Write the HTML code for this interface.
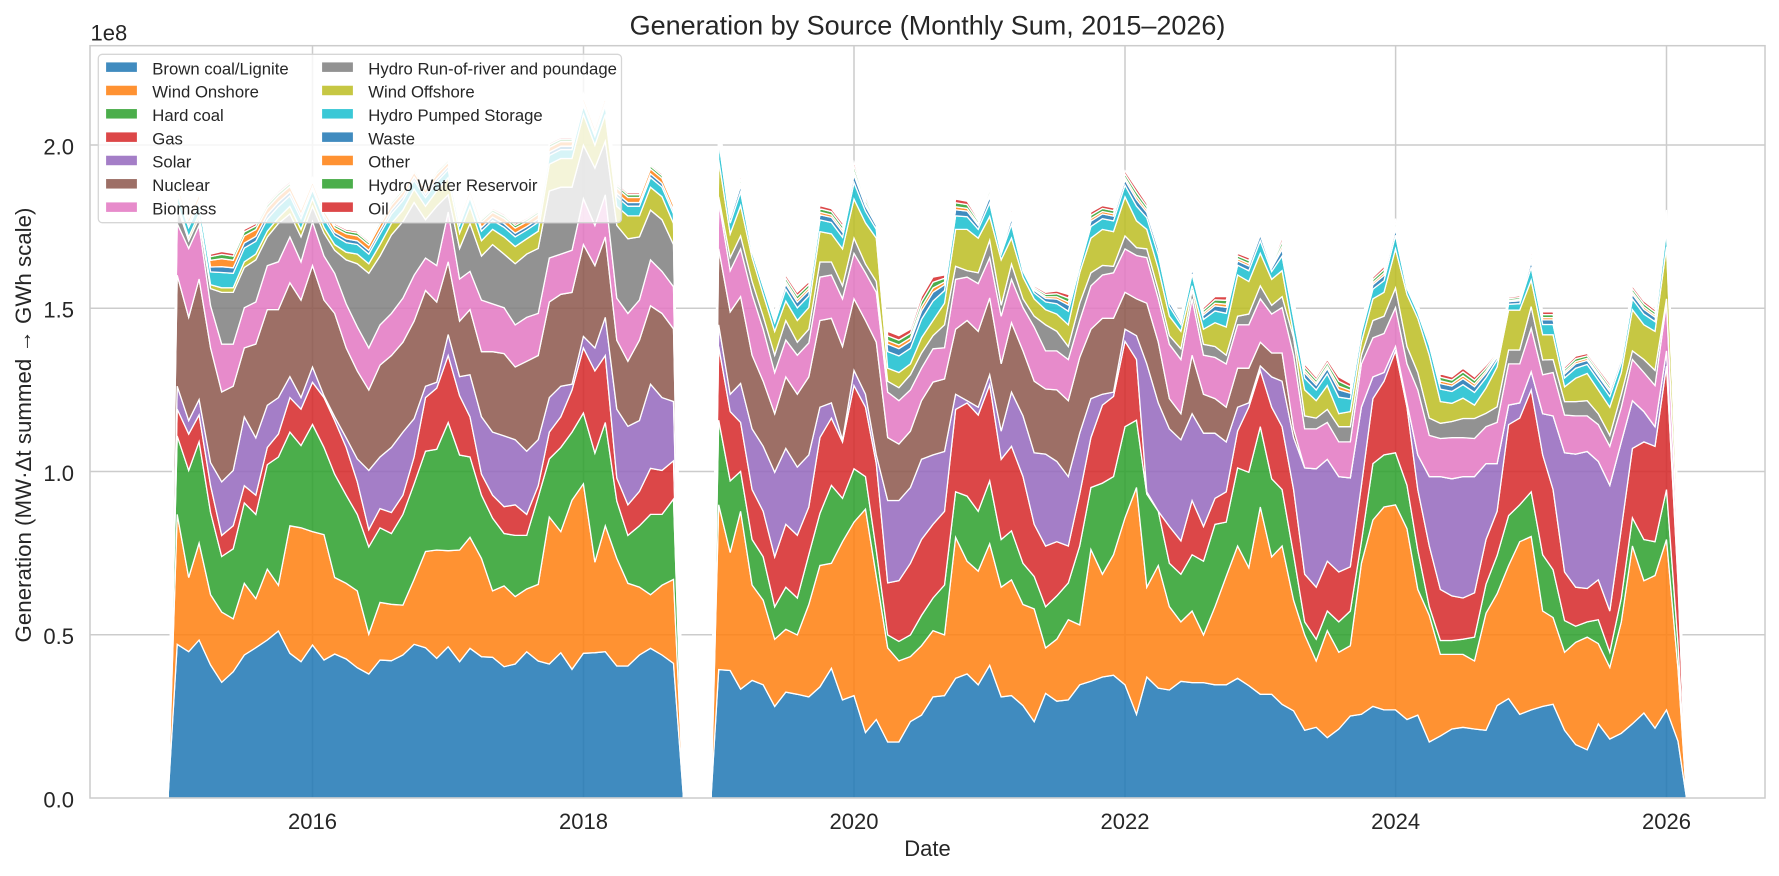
<!DOCTYPE html>
<html>
<head>
<meta charset="utf-8">
<style>
html,body{margin:0;padding:0;background:#fff;}
svg{display:block;}
text{font-family:"Liberation Sans",Arial,"DejaVu Sans",sans-serif;fill:#262626;}
</style>
</head>
<body>
<svg id="chart" width="1779" height="876" viewBox="0 0 1779 876" xmlns="http://www.w3.org/2000/svg">
<rect x="0" y="0" width="1779" height="876" fill="#ffffff"/>
<!-- grid -->
<g stroke="#cccccc" stroke-width="1.5" fill="none">
  <line x1="312.5" y1="45.7" x2="312.5" y2="798"/>
  <line x1="583.5" y1="45.7" x2="583.5" y2="798"/>
  <line x1="854" y1="45.7" x2="854" y2="798"/>
  <line x1="1125" y1="45.7" x2="1125" y2="798"/>
  <line x1="1395.6" y1="45.7" x2="1395.6" y2="798"/>
  <line x1="1666.5" y1="45.7" x2="1666.5" y2="798"/>
  <line x1="90" y1="634.75" x2="1765" y2="634.75"/>
  <line x1="90" y1="471.5" x2="1765" y2="471.5"/>
  <line x1="90" y1="308.25" x2="1765" y2="308.25"/>
  <line x1="90" y1="145" x2="1765" y2="145"/>
</g>
<g id="areas"></g>
<!-- spines -->
<rect x="90" y="45.7" width="1675" height="752.3" fill="none" stroke="#cccccc" stroke-width="1.5"/>

<!-- y tick labels -->
<g font-size="22" text-anchor="end">
  <text x="74" y="807.3">0.0</text>
  <text x="74" y="644">0.5</text>
  <text x="74" y="480.8">1.0</text>
  <text x="74" y="317.5">1.5</text>
  <text x="74" y="154.3">2.0</text>
</g>
<text x="90.5" y="40.5" font-size="22">1e8</text>
<!-- x tick labels -->
<g font-size="22" text-anchor="middle">
  <text x="312.5" y="829">2016</text>
  <text x="583.5" y="829">2018</text>
  <text x="854" y="829">2020</text>
  <text x="1125" y="829">2022</text>
  <text x="1395.6" y="829">2024</text>
  <text x="1666.5" y="829">2026</text>
</g>
<text x="927.5" y="856" font-size="22" text-anchor="middle">Date</text>
<text transform="translate(31,425) rotate(-90)" font-size="22.3" text-anchor="middle">Generation (MW·Δt summed → GWh scale)</text>
<text x="927.5" y="34.3" font-size="27" text-anchor="middle">Generation by Source (Monthly Sum, 2015–2026)</text>

<!-- legend -->
<g id="legend">
  <rect x="98.3" y="54.3" width="523.2" height="168.4" rx="4" ry="4" fill="#ffffff" fill-opacity="0.8" stroke="#d6d6d6" stroke-width="1.3"/>
  <g stroke="#ffffff" stroke-width="0.8" fill-opacity="0.85">
    <rect x="105.7" y="62" width="31.6" height="10.3" fill="#1f77b4"/>
    <rect x="105.7" y="85.33" width="31.6" height="10.3" fill="#ff7f0e"/>
    <rect x="105.7" y="108.66" width="31.6" height="10.3" fill="#2ca02c"/>
    <rect x="105.7" y="132" width="31.6" height="10.3" fill="#d62728"/>
    <rect x="105.7" y="155.33" width="31.6" height="10.3" fill="#9467bd"/>
    <rect x="105.7" y="178.66" width="31.6" height="10.3" fill="#8c564b"/>
    <rect x="105.7" y="202" width="31.6" height="10.3" fill="#e377c2"/>
    <rect x="321.7" y="62" width="31.6" height="10.3" fill="#7f7f7f"/>
    <rect x="321.7" y="85.33" width="31.6" height="10.3" fill="#bcbd22"/>
    <rect x="321.7" y="108.66" width="31.6" height="10.3" fill="#17becf"/>
    <rect x="321.7" y="132" width="31.6" height="10.3" fill="#1f77b4"/>
    <rect x="321.7" y="155.33" width="31.6" height="10.3" fill="#ff7f0e"/>
    <rect x="321.7" y="178.66" width="31.6" height="10.3" fill="#2ca02c"/>
    <rect x="321.7" y="202" width="31.6" height="10.3" fill="#d62728"/>
  </g>
  <g font-size="16.7">
    <text x="152.3" y="74.3">Brown coal/Lignite</text>
    <text x="152.3" y="97.63">Wind Onshore</text>
    <text x="152.3" y="120.96">Hard coal</text>
    <text x="152.3" y="144.3">Gas</text>
    <text x="152.3" y="167.63">Solar</text>
    <text x="152.3" y="190.96">Nuclear</text>
    <text x="152.3" y="214.3">Biomass</text>
    <text x="368.3" y="74.3">Hydro Run-of-river and poundage</text>
    <text x="368.3" y="97.63">Wind Offshore</text>
    <text x="368.3" y="120.96">Hydro Pumped Storage</text>
    <text x="368.3" y="144.3">Waste</text>
    <text x="368.3" y="167.63">Other</text>
    <text x="368.3" y="190.96">Hydro Water Reservoir</text>
    <text x="368.3" y="214.3">Oil</text>
  </g>
</g>
</svg>
<script>
(function(){
const C=['#1f77b4','#ff7f0e','#2ca02c','#d62728','#9467bd','#8c564b','#e377c2','#7f7f7f','#bcbd22','#17becf','#1f77b4','#ff7f0e','#2ca02c','#d62728'];
const X0=312.5,PX=0.37065,B=Date.UTC(2016,0,1),Y0=798;
const xm=(y,m)=>X0+(Date.UTC(y,m,1)-B)/864e5*PX;
const c2=p=>580+p/3, c5=p=>80+p/2.613, cs=p=>95+p/2.306;

const S1={
brown:[193,215,180,255,307,275,225,203,180,153,220,245,195,240,222,237,263,282,240,242,225,193,203,235,200,245,205,230,232,260,252,215,243,252,218,268,220,218,215,258,258,225,205,225,250],
wind:[1135,1300,1210,1345,1390,1408,1315,1355,1278,1320,1165,1170,1180,1188,1300,1315,1335,1448,1365,1370,1372,1305,1232,1228,1230,1228,1195,1250,1335,1322,1350,1330,1318,1142,1180,1098,1055,1260,1165,1250,1315,1325,1345,1320,1305],
coal:[930,1020,945,1130,1245,1225,1105,1135,1005,985,920,955,900,960,1030,1085,1135,1220,1170,1185,1135,1055,970,965,895,980,985,1085,1145,1185,1190,1190,1090,990,960,920,870,975,895,1100,1190,1165,1135,1135,1095],
gas:[860,925,875,1060,1190,1165,1060,1085,960,925,830,860,790,830,890,960,1050,1175,1120,1130,1085,985,830,805,720,825,880,1030,1085,1115,1110,1135,1060,920,880,810,700,760,720,1040,1110,1075,1015,1020,995],
solar:[800,890,835,1000,1050,1020,880,935,850,830,775,830,750,825,880,935,990,1020,985,960,920,885,800,790,665,775,770,880,920,930,940,970,940,830,800,795,670,700,620,860,905,890,795,830,840],
nuc:[510,620,520,700,815,800,700,690,600,600,530,575,485,575,610,700,760,810,745,720,685,630,550,580,475,630,600,710,710,715,750,735,720,580,560,555,430,485,410,680,735,680,590,610,650],
bio:[375,440,380,590,690,690,595,580,485,475,410,475,370,460,505,585,645,700,640,610,570,510,465,485,345,520,500,575,585,595,640,620,610,465,455,445,310,380,300,570,610,575,470,500,540],
ror:[330,420,360,545,555,555,490,470,410,375,350,410,330,400,445,470,480,505,460,405,370,320,365,330,300,440,375,460,430,455,480,455,440,290,280,280,170,230,160,380,415,410,340,365,430],
off:[8,10,10,10,12,12,15,15,15,15,20,20,20,15,15,20,25,25,30,30,30,35,35,40,45,40,45,40,40,45,45,40,45,70,75,75,80,60,70,50,60,55,60,60,55],
gap:[60,60,65,80,95,90,85,80,75,70,65,65,55,55,55,60,60,60,65,60,60,55,55,55,50,50,55,60,55,60,60,55,55,55,55,55,55,55,55,60,60,60,60,60,60]
};
const N=null;
const S2={
brown:[1325,1327,1370,1350,1360,1410,1377,1382,1388,1365,1322,1395,1385,1470,1440,1492,1492,1445,1430,1388,1385,1345,1335,1360,1315,1388,1385,1408,1445,
1380,1398,1395,1360,1352,1342,1338,1360,1428,1342,1368,1372,1352,1355,1355,1360,1360,1345,1362,1382,1382,1405,1420,1465,1458,1482,1462,1432,1428,
1410,1418,1418,1440,1430,1492,1478,1462,1458,1462,1465,1408,1392,1428,1418,1410,1405,1465,1498,1510,1450,1485,1472,1450,1425,1460,1418,1490],
wind:[945,1055,960,1130,1165,1255,1232,1245,1175,1085,1080,1030,985,955,1110,1275,1305,1295,1270,1235,1245,1020,1075,1098,1035,1135,1118,1175,1185,
1275,1255,1210,1222,1048,1105,1060,975,905,1135,1085,1180,1215,1190,1245,1180,1110,1040,1090,950,1065,1040,1165,1245,1305,1235,1285,1270,1080,
980,950,945,1000,1140,1200,1290,1290,1290,1305,1195,1150,1085,1030,1018,1190,1205,1285,1262,1250,1265,1320,1215,1040,1120,1108,1025,1323],
coal:[750,890,868,1025,1065,1180,1135,1160,1060,965,900,930,862,880,1050,1245,1260,1245,1200,1160,1130,915,925,960,890,1025,1005,1080,1110,
1180,1155,1125,1040,905,895,880,765,750,920,960,1080,1105,1060,1075,990,985,860,870,765,885,910,1060,1215,1255,1190,1215,1190,1030,
850,830,825,900,1050,1180,1258,1258,1255,1250,1128,1062,970,945,915,1060,1095,1212,1225,1215,1210,1285,1160,975,1025,1030,910,1265],
gas:[580,730,755,910,960,1065,990,1015,950,790,745,800,670,720,850,1125,1120,1080,1025,990,960,725,710,738,668,840,810,880,990,
1040,1030,1040,920,790,715,695,568,610,915,960,995,1028,935,995,930,915,775,720,635,720,765,910,1105,1135,1075,1100,1088,900,
700,660,590,720,910,1040,1140,1155,1160,1148,1025,960,760,745,680,830,910,1100,1135,1138,1118,1190,1000,815,800,810,625,1123],
solar:[530,690,665,770,810,870,815,858,830,720,710,795,635,690,830,935,935,905,840,830,822,690,705,720,645,775,685,740,825,
828,845,880,780,700,690,685,540,555,620,710,770,795,735,780,780,800,720,710,625,650,660,790,860,862,840,880,883,720,
650,640,580,710,830,880,880,885,880,880,850,850,715,710,638,735,740,825,828,822,845,900,800,705,730,765,590,1105],
nuc:[355,500,465,600,660,735,650,690,650,520,515,580,470,520,570,790,805,775,705,662,655,540,520,545,468,620,525,590,660,
678,680,705,605,540,515,515,455,470,480,570,700,735,600,690,700,720,630,630,570,595,595,770,N,N,N,N,N,N,
N,N,N,N,N,N,N,N,N,N,N,N,N,N,N,N,N,N,N,N,N,N,N,N,N,N,N,N],
bio:[245,405,355,460,540,640,565,600,572,420,415,470,365,410,455,685,705,680,630,585,583,425,420,435,375,510,425,490,535,
590,590,610,520,440,415,410,355,370,375,470,575,610,470,600,605,620,530,530,470,505,490,600,770,770,755,800,800,620,
560,550,490,620,680,785,792,790,790,792,765,755,620,620,538,645,640,738,740,740,760,810,720,610,640,670,480,1050],
ror:[235,375,325,430,510,600,520,570,540,385,385,440,330,390,430,660,675,645,595,555,530,395,405,410,335,485,390,470,510,
530,545,580,480,410,393,395,325,352,355,450,555,585,450,575,580,600,510,505,440,485,465,560,740,745,725,765,765,600,
520,510,445,580,640,745,757,753,746,746,734,719,588,588,488,611,610,707,707,705,735,785,690,590,610,635,470,1045],
olive:[150,320,255,375,460,545,475,520,490,315,320,355,240,295,330,630,640,620,560,520,480,310,310,330,280,380,330,420,470,
495,505,530,410,330,310,315,235,290,310,400,510,545,440,540,525,535,415,430,365,425,405,550,680,705,670,735,730,570,
470,455,355,460,515,600,707,711,699,715,676,627,496,496,427,553,553,673,653,642,680,720,640,495,530,545,350,985],
total:[50,265,185,345,420,500,415,455,430,255,262,295,155,235,285,545,555,540,465,420,415,240,245,285,210,350,260,390,440,
455,452,460,390,270,255,260,175,215,250,330,460,510,380,490,465,465,365,375,300,385,330,470,620,650,610,650,665,520,
420,395,285,440,490,550,643,650,630,650,623,592,469,463,361,500,500,627,602,596,630,665,590,440,475,495,265,943]
};

function mkLayers(){const a=[];for(let L=0;L<14;L++)a.push([]);return a;}

// segment 1
const A=mkLayers(), xs1=[168];
for(let i=0;i<45;i++){
  xs1.push(xm(2015,i));
  const ol=S1.ror[i]-S1.off[i], g=S1.gap[i];
  const v=[c2(S1.brown[i]),c5(S1.wind[i]),c5(S1.coal[i]),c5(S1.gas[i]),c5(S1.solar[i]),c5(S1.nuc[i]),c5(S1.bio[i]),c5(S1.ror[i]),c5(ol),c5(ol-.42*g),c5(ol-.58*g),c5(ol-.8*g),c5(ol-.92*g),c5(ol-g)];
  v.forEach((y,L)=>A[L].push(y));
}
xs1.push(683.5);

// segment 2
const Bl=mkLayers(), xs2=[711];
for(let k=0;k<86;k++){
  xs2.push(xm(2019,k));
  const ol=S2.olive[k]; const tot=Math.min(S2.total[k],ol-30); const g=ol-tot;
  const nu=S2.nuc[k]==null?S2.solar[k]:S2.nuc[k];
  const v=[cs(S2.brown[k]),cs(S2.wind[k]),cs(S2.coal[k]),cs(S2.gas[k]),cs(S2.solar[k]),cs(nu),cs(S2.bio[k]),cs(S2.ror[k]),cs(ol),cs(ol-.45*g),cs(ol-.65*g),cs(ol-.75*g),cs(ol-.88*g),cs(tot)];
  v.forEach((y,L)=>Bl[L].push(y));
}
xs2.push(1686.5);

function finish(layers){
  layers.forEach(a=>{a.unshift(Y0);a.push(Y0);});
  for(let L=0;L<14;L++){
    for(let j=0;j<layers[L].length;j++){
      if(layers[L][j]>Y0)layers[L][j]=Y0;
      if(L>0 && layers[L][j]>layers[L-1][j])layers[L][j]=layers[L-1][j];
    }
  }
}
finish(A);finish(Bl);

function build(xs,layers){
  let out='';
  for(let L=0;L<14;L++){
    const top=layers[L], bot=L?layers[L-1]:xs.map(()=>Y0);
    let d='M'+xs[0].toFixed(1)+','+top[0].toFixed(1);
    for(let j=1;j<xs.length;j++)d+='L'+xs[j].toFixed(1)+','+top[j].toFixed(1);
    for(let j=xs.length-1;j>=0;j--)d+='L'+xs[j].toFixed(1)+','+bot[j].toFixed(1);
    d+='Z';
    out+='<path d="'+d+'" fill="'+C[L]+'" fill-opacity="0.85" stroke="#ffffff" stroke-width="1.3" stroke-linejoin="miter"/>';
  }
  return out;
}
document.getElementById('areas').innerHTML=build(xs1,A)+build(xs2,Bl);
})();
</script>
</body>
</html>
